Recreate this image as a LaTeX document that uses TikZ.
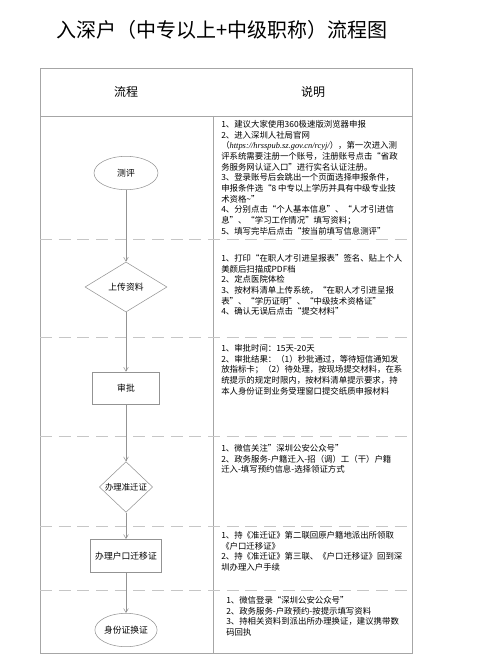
\documentclass[tikz,border=0pt]{standalone}
\usepackage{fontspec}
\setmainfont{Noto Sans CJK SC}
\newfontfamily\xifont{Liberation Serif}
\usetikzlibrary{shapes.geometric,arrows.meta}

\tikzset{
  liucheng/.style={draw=gray!85, thin, font=\fontsize{6.6}{8}\selectfont},
  tuoyuan/.style={liucheng, ellipse, inner sep=0pt, minimum width=48pt, minimum height=25pt},
  lingxing/.style={liucheng, diamond, inner sep=0pt},
  fangkuang/.style={liucheng, rectangle, minimum width=50pt, minimum height=24pt},
  shuoming/.style={anchor=north west, inner sep=0pt, align=left, font=\fontsize{6.3}{8}\selectfont},
  fenge/.style={gray!45, dash pattern=on 9pt off 5pt},
  jiantou/.style={-{Straight Barb[length=3pt,width=3.5pt]}, gray!85, thin}
}

\begin{document}
\begin{tikzpicture}[x=0.75pt,y=-0.75pt]
\useasboundingbox (0,0) rectangle (500,666);

% 标题
\node[anchor=west, font=\fontsize{15}{18}\selectfont] (title) at (52,30) {入深户（中专以上+中级职称）流程图};

% 表格
\draw[gray!70] (40,68) rectangle (412,653);
\draw[gray!70] (40,116) -- (412,116);
\draw[gray!70] (213,116) -- (213,653);
\node[font=\fontsize{9}{10}\selectfont] (hliucheng) at (126,92) {流程};
\node[font=\fontsize{9}{10}\selectfont] (hshuoming) at (313,92) {说明};

% 分隔虚线
\foreach \y in {239,337,436,526,590}
  \draw[fenge] (40,\y) -- (412,\y);

% 流程
\node[tuoyuan] (ceping) at (126,173) {测评};
\node[lingxing, minimum width=61.5pt, minimum height=37.5pt] (shangchuan) at (126,287) {上传资料};
\node[fangkuang] (shenpi) at (126,388) {审批};
\node[lingxing, minimum width=40pt, minimum height=38pt, font=\fontsize{6.3}{8}\selectfont] (zhunqian) at (126,487) {办理准迁证};
\node[fangkuang, minimum width=52pt, minimum height=25pt] (qianyi) at (126,556) {办理户口迁移证};
\node[tuoyuan, minimum width=41pt] (huanzheng) at (126,630) {身份证换证};

\draw[jiantou] (ceping) -- (shangchuan);
\draw[jiantou] (shangchuan) -- (shenpi);
\draw[jiantou] (shenpi) -- (zhunqian);
\draw[jiantou] (zhunqian) -- (qianyi);
\draw[jiantou] (qianyi) -- (huanzheng);

% 说明
\node[shuoming] (sm1) at (221,120) {1、建议大家使用360极速版浏览器申报\\
2、进入深圳人社局官网\\
（{\xifont\itshape https://hrsspub.sz.gov.cn/rcyj/}），第一次进入测\\
评系统需要注册一个账号，注册账号点击“省政\\
务服务网认证入口”进行实名认证注册。\\
3、登录账号后会跳出一个页面选择申报条件，\\
申报条件选“8 中专以上学历并具有中级专业技\\
术资格\textasciitilde”\\
4、分别点击“个人基本信息”、“人才引进信\\
息”、“学习工作情况”填写资料；\\
5、填写完毕后点击“按当前填写信息测评”};

\node[shuoming] (sm2) at (221,254) {1、打印“在职人才引进呈报表”签名、贴上个人\\
美颜后扫描成PDF档\\
2、定点医院体检\\
3、按材料清单上传系统，“在职人才引进呈报\\
表”、“学历证明”、“中级技术资格证”\\
4、确认无误后点击“提交材料”};

\node[shuoming] (sm3) at (221,344) {1、审批时间：15天-20天\\
2、审批结果：（1）秒批通过，等待短信通知发\\
放指标卡；（2）待处理，按现场提交材料，在系\\
统提示的规定时限内，按材料清单提示要求，持\\
本人身份证到业务受理窗口提交纸质申报材料};

\node[shuoming] (sm4) at (221,444) {1、微信关注”深圳公安公众号”\\
2、政务服务-户籍迁入-招（调）工（干）户籍\\
迁入-填写预约信息-选择领证方式};

\node[shuoming] (sm5) at (221,531) {1、持《准迁证》第二联回原户籍地派出所领取\\
《户口迁移证》\\
2、持《准迁证》第三联、《户口迁移证》回到深\\
圳办理入户手续};

\node[shuoming] (sm6) at (226,596) {1、微信登录“深圳公安公众号”\\
2、政务服务-户政预约-按提示填写资料\\
3、持相关资料到派出所办理换证，建议携带数\\
码回执};

\end{tikzpicture}
\end{document}
